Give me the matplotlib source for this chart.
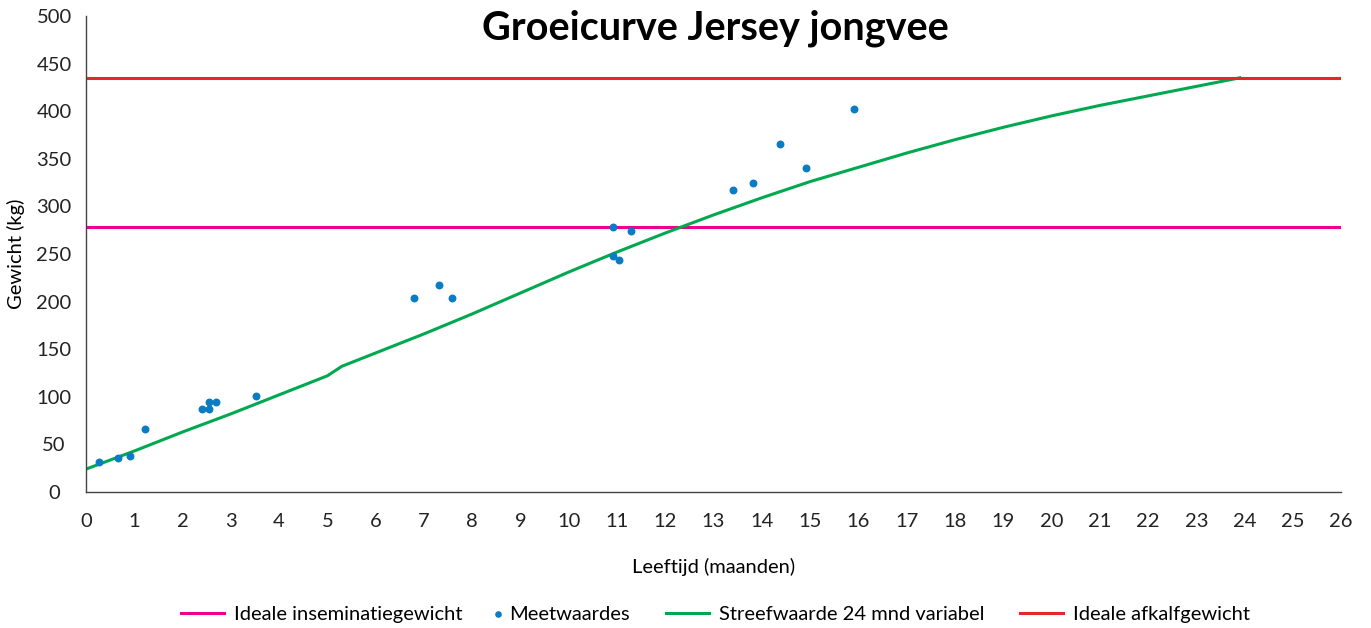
import numpy as np
import matplotlib.pyplot as plt
from matplotlib.legend_handler import HandlerPathCollection

# Meetwaardes (leeftijd in maanden, gewicht in kg)
meet_x = [0.27, 0.66, 0.91, 1.22, 2.40, 2.55, 2.55, 2.69, 3.52, 6.80, 7.31, 7.58,
          10.92, 10.92, 11.04, 11.29, 13.40, 13.82, 14.38, 14.92, 15.91]
meet_y = [31, 36, 38, 66, 87, 87, 95, 95, 101, 204, 217, 204,
          278, 248, 244, 274, 317, 325, 366, 340, 402]

# Streefwaarde 24 mnd variabel
streef_x = [0, 1, 2, 3, 4, 5, 5.3, 6, 7, 8, 9, 10, 11, 12, 13, 14, 15, 16, 17,
            18, 19, 20, 21, 22, 23, 23.9]
streef_y = [24, 43, 63, 82, 102, 122, 132, 146, 166, 187, 209, 231, 252, 272, 291,
            309, 326, 341, 356, 370, 383, 395, 406, 416, 426, 435]

insem_gewicht = 278
afkalf_gewicht = 435
x_range = [0, 26]
x_ticks = list(range(0, 27))
y_ticks = list(range(0, 501, 50))

plt.rcParams['font.family'] = ['Lato', 'DejaVu Sans']
FS = 14.5


# marker just before the text (the handle box of this entry gets width 0 below)
class MarkerNearText(HandlerPathCollection):
    def get_xdata(self, legend, xdescent, ydescent, width, height, fontsize):
        x = [-xdescent - 0.5]
        return x, x


fig = plt.figure(figsize=(13.71, 6.28), dpi=100)
ax = fig.add_axes([0.0627, 0.2166, 0.9155, 0.758])

ax.plot(x_range, [insem_gewicht] * 2, color="#ec008c", lw=2.2, label="Ideale inseminatiegewicht")
pts = ax.scatter(meet_x, meet_y, color="#0a7cc4", s=22, zorder=4, label="Meetwaardes")
ax.plot(streef_x, streef_y, color="#00a84f", lw=2.2, label="Streefwaarde 24 mnd variabel")
ax.plot(x_range, [afkalf_gewicht] * 2, color="#e8262a", lw=2.2, label="Ideale afkalfgewicht")

ax.set_xlim(0, 26)
ax.set_ylim(0, 500)
ax.set_xticks(x_ticks, labels=[str(v) for v in x_ticks])
ax.set_yticks(y_ticks, labels=[str(v) for v in y_ticks], ha="center")
ax.tick_params(length=0, labelsize=FS, colors="#222222")
ax.tick_params(axis="x", pad=15)
ax.tick_params(axis="y", pad=23)
for s in ["top", "right"]:
    ax.spines[s].set_visible(False)
for s in ["left", "bottom"]:
    ax.spines[s].set_color("#444444")
    ax.spines[s].set_linewidth(1.0)

ax.set_xlabel("Leeftijd (maanden)", fontsize=FS, labelpad=20)
ax.set_ylabel("Gewicht (kg)", fontsize=FS)
ax.yaxis.set_label_coords(-0.0486, 0.5)

fig.text(0.5215, 0.955, "Groeicurve Jersey jongvee", ha="center", va="center",
         fontsize=28.5, fontweight="bold", color="black")

handles, labels = ax.get_legend_handles_labels()
leg = fig.legend(handles, labels, loc="center", bbox_to_anchor=(0.522, 0.022), ncol=4,
                 frameon=False, fontsize=FS, handlelength=31 / FS, handletextpad=7.2 / FS,
                 columnspacing=26 / FS, markerscale=0.8,
                 handler_map={pts: MarkerNearText()})
# shrink the handle box of the "Meetwaardes" entry so the dot sits next to its text
marker_item = leg._legend_handle_box.get_children()[1].get_children()[0]
marker_item.get_children()[0].width = 0

fig.savefig("out.png", dpi=100)
